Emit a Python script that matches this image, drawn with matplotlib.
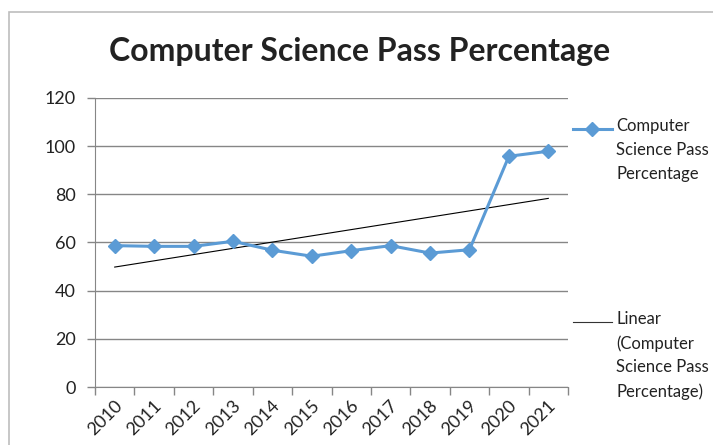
import numpy as np
import matplotlib
matplotlib.use("Agg")
import matplotlib.pyplot as plt
from matplotlib.lines import Line2D
from matplotlib.patches import Rectangle

plt.rcParams["font.family"] = ["Lato", "DejaVu Sans"]

# dados
anos = ["2010", "2011", "2012", "2013", "2014", "2015",
        "2016", "2017", "2018", "2019", "2020", "2021"]
aprovacao = [58.7, 58.4, 58.4, 60.5, 56.8, 54.3,
             56.6, 58.7, 55.6, 57.0, 95.8, 97.9]
titulo = "Computer Science Pass Percentage"
serie_nome = "Computer\nScience Pass\nPercentage"
tend_nome = "Linear\n(Computer\nScience Pass\nPercentage)"

azul = "#5B9BD5"
cinza = "#868686"

fig = plt.figure(figsize=(7.13, 4.45), dpi=100)
W, H = 713, 445

# moldura do grafico (cortada na direita/embaixo)
fig.patches.append(Rectangle((9 / W, -0.1), 1.2, 1 - 12 / H + 0.1,
                             transform=fig.transFigure, fill=False,
                             edgecolor="#BDBDBD", linewidth=1.2))

ax = fig.add_axes([95 / W, (H - 387) / H, (568 - 95) / W, (387 - 98) / H])

x = np.arange(len(anos))
ax.plot(x, aprovacao, color=azul, linewidth=2.2, marker="D",
        markersize=7, zorder=3)

# linha de tendencia linear
coef = np.polyfit(x, aprovacao, 1)
ax.plot(x, np.polyval(coef, x), color="black", linewidth=0.8, zorder=2)

ax.set_xlim(-0.5, len(anos) - 0.5)
ax.set_ylim(0, 120)
ax.set_yticks(range(0, 121, 20))
ax.grid(axis="y", color=cinza, linewidth=1)
ax.set_axisbelow(True)

ax.set_xticks(np.append(x - 0.5, len(anos) - 0.5))
ax.set_xticklabels([""] * (len(anos) + 1))
for i, a in enumerate(anos):
    ax.text(i - 0.02, -4.5, a, rotation=45, ha="right", va="top",
            rotation_mode="anchor", fontsize=13, color="#222222",
            transform=ax.transData)

for s in ["top", "right"]:
    ax.spines[s].set_visible(False)
ax.spines["left"].set_color(cinza)
ax.spines["bottom"].set_color(cinza)
ax.tick_params(axis="both", colors=cinza, length=6, width=1,
               labelcolor="#222222", labelsize=13)
ax.tick_params(axis="y", pad=8)

fig.text(360 / W, 1 - 51 / H, titulo, ha="center", va="center",
         fontsize=23, fontweight="bold", color="#222222")

# legenda manual
fig.add_artist(Line2D([573 / W, 592 / W, 612 / W], [1 - 129 / H] * 3,
                      color=azul, linewidth=2.2, marker="D", markersize=7,
                      markevery=[1], transform=fig.transFigure))
fig.add_artist(Line2D([573 / W, 612 / W], [1 - 322 / H] * 2, color="#333333",
                      linewidth=0.8, transform=fig.transFigure))
fig.text(616 / W, 1 - 118 / H, serie_nome, ha="left", va="top",
         fontsize=12, color="#222222", linespacing=1.6)
fig.text(616 / W, 1 - 311 / H, tend_nome, ha="left", va="top",
         fontsize=12, color="#222222", linespacing=1.6)

fig.savefig("out.png", dpi=100)
